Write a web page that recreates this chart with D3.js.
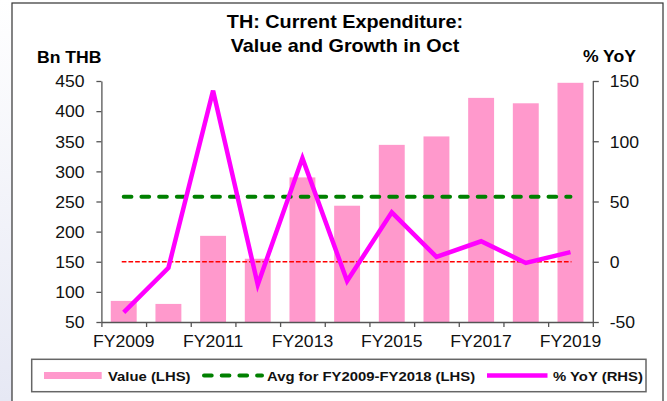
<!DOCTYPE html>
<html>
<head>
<meta charset="utf-8">
<script src="https://cdnjs.cloudflare.com/ajax/libs/d3/7.8.5/d3.min.js"></script>
<style>
  body { margin: 0; background: #fff; }
  svg { display: block; font-family: "Liberation Sans", Arial, sans-serif; }
</style>
</head>
<body>
<div id="svg-div"></div>
<script>
var years = ["FY2009", "FY2010", "FY2011", "FY2012", "FY2013", "FY2014",
             "FY2015", "FY2016", "FY2017", "FY2018", "FY2019"];
var valueBn = [85, 80, 193, 155, 290, 243, 344, 358, 422, 413, 447];
var yoyPct = [-42, -5, 142, -19, 86, -16, 41, 4, 17, -1, 8];
var avgValue = 258;
var leftTicks = [50, 100, 150, 200, 250, 300, 350, 400, 450];
var rightTicks = [-50, 0, 50, 100, 150];
var xLabels = ["FY2009", "FY2011", "FY2013", "FY2015", "FY2017", "FY2019"];

var width = 667;
var height = 401;
var plotLeft = 101.4, plotRight = 592.8, plotTop = 81, plotBottom = 322;
var sx = "scale(1.1,1)";

var svg = d3.select("#svg-div").append("svg")
  .attr("width", width).attr("height", height);

// faint backdrop at the far left
var grad = svg.append("defs").append("linearGradient")
  .attr("id", "bg").attr("x1", 0).attr("y1", 0).attr("x2", 0).attr("y2", 1);
grad.append("stop").attr("offset", "0%").attr("stop-color", "#ffffff");
grad.append("stop").attr("offset", "100%").attr("stop-color", "#e6e8f4");
svg.append("rect").attr("x", 0).attr("y", 0).attr("width", 12).attr("height", height)
  .attr("fill", "url(#bg)");

svg.append("rect")
  .attr("x", 12).attr("y", 3).attr("width", 651).attr("height", height + 10)
  .attr("fill", "#fff").attr("stroke", "#333").attr("stroke-width", 1.2);

var x = d3.scaleBand().domain(years).range([plotLeft, plotRight])
  .paddingInner(0.42).paddingOuter(0.21);
var xIdx = d3.scaleLinear().domain([0, years.length]).range([plotLeft, plotRight]);
var yL = d3.scaleLinear().domain([50, 450]).range([plotBottom, plotTop]);
var yR = d3.scaleLinear().domain([-50, 150]).range([plotBottom, plotTop]);

svg.append("g").selectAll("rect")
  .data(valueBn)
  .join("rect")
  .attr("x", function(d, i) { return x(years[i]); })
  .attr("y", function(d) { return yL(d); })
  .attr("width", x.bandwidth())
  .attr("height", function(d) { return plotBottom - yL(d); })
  .attr("fill", "#ff99cc");

var xMid = function(i) { return x(years[i]) + x.bandwidth() / 2; };

svg.append("line")
  .attr("x1", xMid(0) - 2).attr("x2", xMid(years.length - 1) + 1)
  .attr("y1", yR(0)).attr("y2", yR(0))
  .style("stroke", "#ff0000").style("stroke-width", 1.6)
  .style("stroke-dasharray", "4.7,2");

svg.append("line")
  .attr("x1", xMid(0)).attr("x2", xMid(years.length - 1))
  .attr("y1", yL(avgValue)).attr("y2", yL(avgValue))
  .style("stroke", "#008000").style("stroke-width", 4)
  .style("stroke-linecap", "round")
  .style("stroke-dasharray", "7.7,10");

var line = d3.line()
  .x(function(d, i) { return xMid(i); })
  .y(function(d) { return yR(d); });

svg.append("path")
  .datum(yoyPct)
  .attr("d", line)
  .attr("fill", "none")
  .attr("stroke", "#ff00ff")
  .attr("stroke-width", 4.5)
  .attr("stroke-linejoin", "miter");

function styleAxis(g) {
  g.selectAll("path, line").attr("stroke", "#555").attr("stroke-width", 1.3);
  g.selectAll("text").attr("fill", "#111").style("font-size", "16px")
    .attr("transform", sx);
}

var plain = function(d) { return String(d); };

var gL = svg.append("g").attr("transform", "translate(" + plotLeft + ",0)")
  .call(d3.axisLeft(yL).tickValues(leftTicks).tickFormat(plain)
    .tickSize(5).tickSizeOuter(0).tickPadding(10.4));
styleAxis(gL);
gL.selectAll("text").attr("dy", "0.36em");

var gR = svg.append("g").attr("transform", "translate(" + plotRight + ",0)")
  .call(d3.axisRight(yR).tickValues(rightTicks).tickFormat(plain)
    .tickSize(6).tickSizeOuter(0).tickPadding(9.4));
styleAxis(gR);
gR.selectAll("text").attr("dy", "0.36em");

var gB = svg.append("g").attr("transform", "translate(0," + plotBottom + ")")
  .call(d3.axisBottom(xIdx).tickValues(d3.range(years.length + 1)).tickSize(5)
    .tickSizeOuter(0).tickFormat(""));
styleAxis(gB);

var gBL = svg.append("g").attr("transform", "translate(0," + plotBottom + ")")
  .call(d3.axisBottom(x).tickSize(0).tickPadding(13.6)
    .tickFormat(function(d) { return xLabels.indexOf(d) >= 0 ? d : ""; }));
styleAxis(gBL);
gBL.select(".domain").remove();

svg.append("text").attr("transform", "translate(345,28) " + sx)
  .attr("text-anchor", "middle").style("font-size", "18px").style("font-weight", "bold")
  .text("TH: Current Expenditure:");
svg.append("text").attr("transform", "translate(345,52) " + sx)
  .attr("text-anchor", "middle").style("font-size", "18px").style("font-weight", "bold")
  .text("Value and Growth in Oct");
svg.append("text").attr("transform", "translate(37,63) " + sx)
  .style("font-size", "16px").style("font-weight", "bold").text("Bn THB");
svg.append("text").attr("transform", "translate(636,62) " + sx)
  .attr("text-anchor", "end")
  .style("font-size", "16px").style("font-weight", "bold").text("% YoY");

// legend
var leg = svg.append("g");
leg.append("rect").attr("x", 31.7).attr("y", 359.3).attr("width", 614.3).attr("height", 32.4)
  .attr("fill", "#fff").attr("stroke", "#666").attr("stroke-width", 1.5);
var ly = 375.5;
leg.append("rect").attr("x", 44).attr("y", ly - 3.5).attr("width", 57.7).attr("height", 7)
  .attr("fill", "#ff99cc");
leg.append("line").attr("x1", 204).attr("x2", 262).attr("y1", ly).attr("y2", ly)
  .style("stroke", "#008000").style("stroke-width", 4).style("stroke-linecap", "round")
  .style("stroke-dasharray", "7.7,10");
leg.append("line").attr("x1", 487).attr("x2", 547.5).attr("y1", ly).attr("y2", ly)
  .style("stroke", "#ff00ff").style("stroke-width", 4.5);
var legTexts = [["Value (LHS)", 108], ["Avg for FY2009-FY2018 (LHS)", 267], ["% YoY (RHS)", 553]];
legTexts.forEach(function(t) {
  leg.append("text").attr("transform", "translate(" + t[1] + "," + (ly + 5) + ") " + sx)
    .style("font-size", "13.5px").style("font-weight", "bold").attr("fill", "#111")
    .text(t[0]);
});
</script>
</body>
</html>
